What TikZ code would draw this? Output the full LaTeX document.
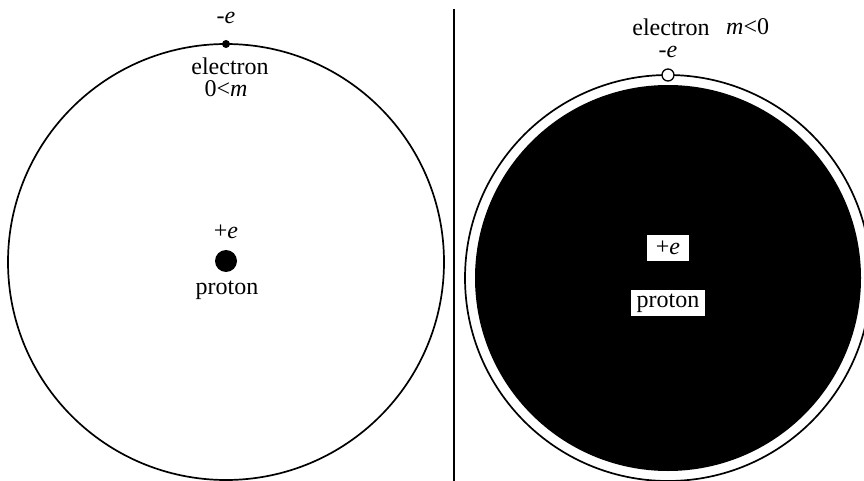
\documentclass[tikz,border=0pt]{standalone}
\usepackage{fontspec}
\setmainfont{Liberation Serif}
\begin{document}
\begin{tikzpicture}[x=1pt,y=-1pt,
  lbl/.style={font=\fontsize{24}{25}\selectfont, inner sep=0pt},
  wbox/.style={lbl, fill=white, inner xsep=6pt, inner ysep=4pt},
  orbit/.style={draw=black, line width=1.7pt}]
\useasboundingbox (0,0) rectangle (864,481);
% left atom
\node[orbit, circle, minimum size=436pt, inner sep=0pt] (orbL) at (226,262) {};
\node[circle, fill=black, minimum size=8pt, inner sep=0pt] (eL) at (226,44) {};
\node[circle, fill=black, minimum size=22pt, inner sep=0pt] (pL) at (226,261) {};
\node[lbl] (meL) at (226,18) {-\textit{e}};
\node[lbl] (elL) at (230,66) {electron};
\node[lbl] (mL) at (226,89) {0<\textit{m}};
\node[lbl] (peL) at (226,232) {+\textit{e}};
\node[lbl] (prL) at (227,290) {proton};
% divider
\coordinate (d1) at (454,9);
\coordinate (d2) at (454,481);
\draw[line width=1.4pt] (d1) -- (d2);
% right atom
\node[orbit, circle, minimum size=406pt, inner sep=0pt] (orbR) at (668,278) {};
\node[circle, fill=black, minimum size=386pt, inner sep=0pt] (dskR) at (668,278) {};
\node[circle, draw=black, fill=white, line width=1.3pt, minimum size=12pt, inner sep=0pt] (eR) at (668,75) {};
\node[lbl] (elR) at (671,27) {electron};
\node[lbl, anchor=west] (mR) at (726,27) {\textit{m}<0};
\node[lbl] (meR) at (668,52) {-\textit{e}};
\node[wbox, inner xsep=9pt, inner ysep=6pt] (peR) at (668,248) {+\textit{e}};
\node[wbox, inner xsep=6pt] (prR) at (668,303) {proton};
\end{tikzpicture}
\end{document}
